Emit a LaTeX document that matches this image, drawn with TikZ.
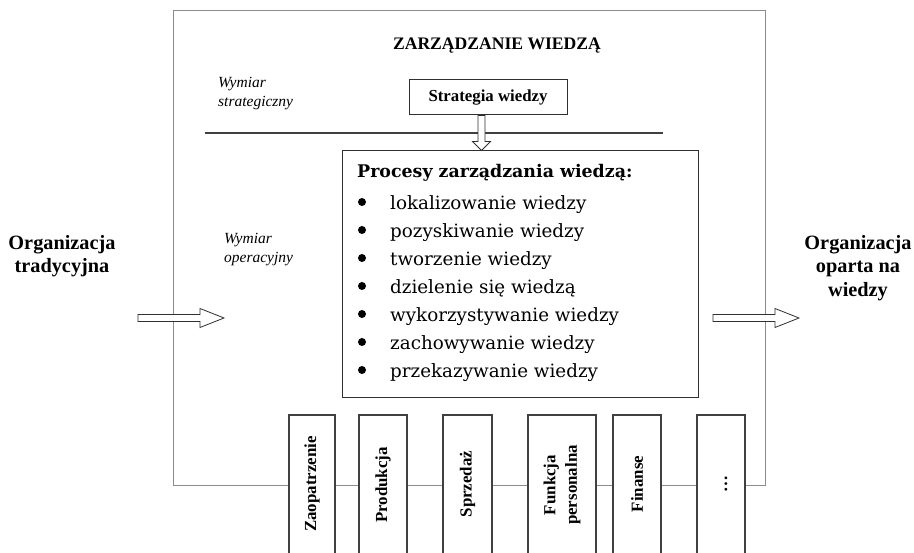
\documentclass[tikz,border=0pt]{standalone}
\usepackage{fontspec}
\setmainfont{Liberation Serif}
\newfontfamily\listfont{DejaVu Serif}
\usetikzlibrary{calc}
\definecolor{framegray}{HTML}{8C8C8C}
\definecolor{boxline}{HTML}{303030}
\definecolor{colline}{HTML}{404040}
\begin{document}
\begin{tikzpicture}[x=1pt,y=-1pt,
  frame/.style={draw=framegray,line width=0.8pt,minimum width=592pt,minimum height=475pt,inner sep=0},
  box/.style={draw=boxline,line width=1pt,fill=white,inner sep=0},
  col/.style={draw=colline,line width=1.2pt,fill=white,minimum height=150pt,inner sep=0},
  coltext/.style={rotate=90,font=\fontsize{16.9}{21.5}\selectfont\bfseries,align=center,inner sep=0},
  orgtext/.style={font=\fontsize{20.3}{23.5}\selectfont\bfseries,align=center,inner sep=0},
  dimtext/.style={font=\fontsize{15.5}{19.5}\selectfont\itshape,align=left,anchor=north west,inner sep=0},
  hollow/.style={draw=boxline,line width=0.8pt,fill=white},
  item/.style={font=\listfont\fontsize{18.3}{20}\selectfont,anchor=base west,inner sep=0},
  bullet/.style={circle,fill=black,inner sep=0,minimum size=8pt},
]
\useasboundingbox (0,0) rectangle (914,553);
\clip (0,0) rectangle (914,553);

% outer frame
\node[frame] (outer) at (469,247.5) {};

% title and strategic level
\node[font=\fontsize{17.6}{20}\selectfont\bfseries,inner sep=0] (title) at (497,46) {ZARZĄDZANIE WIEDZĄ};
\node[dimtext] (wstrat) at (218,77) {Wymiar\\strategiczny};
\node[box,minimum width=158pt,minimum height=35pt,font=\fontsize{16.8}{19}\selectfont\bfseries] (strat) at (488,97.5) {Strategia wiedzy};

% divider
\coordinate (divL) at (205,133);
\coordinate (divR) at (663,133);
\draw[colline,line width=1.5pt] (divL) -- (divR);

% operational level
\node[dimtext] (wop) at (224,233) {Wymiar\\operacyjny};
\node[box,minimum width=356pt,minimum height=247pt] (proc) at (520,274.5) {};
\node[font=\listfont\bfseries\fontsize{17.4}{19}\selectfont,anchor=base west,inner sep=0] (ptitle) at (357,178) {Procesy zarządzania wiedzą:};
\foreach \t [count=\i] in {lokalizowanie wiedzy,pozyskiwanie wiedzy,tworzenie wiedzy,dzielenie się wiedzą,wykorzystywanie wiedzy,zachowywanie wiedzy,przekazywanie wiedzy}{
  \node[item] (item\i) at (390,{210+28*(\i-1)}) {\t};
  \node[bullet] (bul\i) at (362,{202+28*(\i-1)}) {};
}

% arrow strategy -> processes
\coordinate (vtop) at ($(strat.south)+(-6.5,0)$);
\coordinate (vtip) at (vtop |- proc.north);
\draw[hollow] ($(vtop)+(-3.5,0)$) -- ($(vtip)+(-3.5,-9)$) -- ($(vtip)+(-9,-9)$) -- (vtip)
  -- ($(vtip)+(9,-9)$) -- ($(vtip)+(3.5,-9)$) -- ($(vtop)+(3.5,0)$) -- cycle;

% organisation labels and arrows
\node[orgtext] (orgL) at (62,256) {Organizacja\\tradycyjna};
\node[orgtext] (orgR) at (858,268) {Organizacja\\oparta na\\wiedzy};
\coordinate (inA) at (138,318);
\coordinate (outA) at (713,318);
\foreach \c in {inA,outA}{
  \draw[hollow] ($(\c)+(0,-3.5)$) -- ++(62,0) -- ++(0,-6) -- ++(24,9.5) -- ++(-24,9.5) -- ++(0,-6) -- ++(-62,0) -- cycle;
}

% functional columns
\node[col,minimum width=46pt] (c1) at (312,490) {};
\node[col,minimum width=48pt] (c2) at (383,490) {};
\node[col,minimum width=49pt] (c3) at (467.5,490) {};
\node[col,minimum width=68pt] (c4) at (562,490) {};
\node[col,minimum width=48pt] (c5) at (637,490) {};
\node[col,minimum width=48pt] (c6) at (721,490) {};
\node[coltext] (t1) at (312,484) {Zaopatrzenie};
\node[coltext] (t2) at (383,485) {Produkcja};
\node[coltext] (t3) at (467.5,484) {Sprzedaż};
\node[coltext] (t4) at (562,485) {Funkcja\\personalna};
\node[coltext] (t5) at (637,484) {Finanse};
\node[coltext] (t6) at (726,484.5) {…};
\end{tikzpicture}
\end{document}
